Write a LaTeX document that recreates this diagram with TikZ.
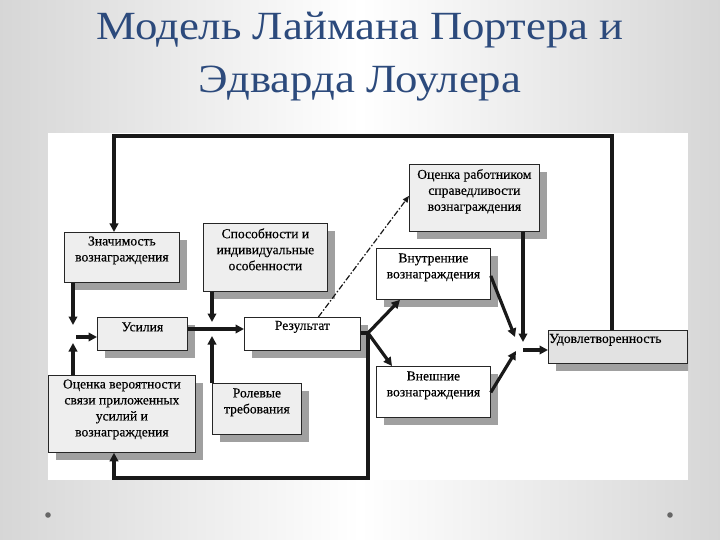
\documentclass[tikz,border=0pt]{standalone}
\usepackage{fontspec}
\setmainfont{Liberation Serif}
\newfontfamily\titlefont[FakeStretch=1.12]{Liberation Serif}
\newfontfamily\boxfont[FakeBold=0.3]{Liberation Serif}
\usetikzlibrary{arrows.meta,shadows}
\definecolor{titleblue}{RGB}{44,74,124}
\definecolor{boxgray}{RGB}{238,238,238}
\definecolor{udgray}{RGB}{226,226,226}
\definecolor{shadowc}{RGB}{160,160,160}
\begin{document}
\begin{tikzpicture}[x=1pt,y=-1pt,
  boxbase/.style={draw=black!85, line width=0.8pt, inner sep=0pt, anchor=north west,
    general shadow={fill=shadowc, shadow xshift=8pt, shadow yshift=-8pt}},
  graybox/.style={boxbase, fill=boxgray},
  whitebox/.style={boxbase, fill=white},
  txt/.style={font=\boxfont\fontsize{13.6}{16}\selectfont, align=center, inner sep=0pt},
  conn/.style={line width=3.2pt, black!90, -{Triangle[length=8.5pt,width=8.5pt]}},
  plainline/.style={line width=3.2pt, black!90},
  dashdotline/.style={line width=1.2pt, black!90, dash pattern=on 6pt off 2pt on 1.5pt off 2pt,
    -{Triangle[length=6.5pt,width=5.5pt]}},
  titletxt/.style={font=\titlefont\fontsize{40}{44}\selectfont, text=titleblue, inner sep=0pt, anchor=base}
]
\useasboundingbox (0,0) rectangle (720,540);
\shade[left color=black!16, right color=black!16, middle color=white] (0,0) rectangle (720,540);

\node[titletxt] (title1) at (360,40) {Модель Лаймана Портера и};
\node[titletxt] (title2) at (360,93) {Эдварда Лоулера};

\fill[black!60] (48,515) circle (2.8);
\fill[black!60] (670,515) circle (2.8);

\fill[white] (48,133) rectangle (688,480);

\begin{scope}
\clip (48,133) rectangle (688,480);
% boxes
\node[graybox, minimum width=115pt, minimum height=50pt] (zn) at (64,232) {};
\node[txt] (zn-t) at ([yshift=7pt]zn.center) {Значимость\\вознаграждения};

\node[graybox, minimum width=124pt, minimum height=68pt] (sp) at (203,223) {};
\node[txt] (sp-t) at ([yshift=8pt]sp.center) {Способности и\\индивидуальные\\особенности};

\node[graybox, minimum width=130pt, minimum height=67pt] (ocr) at (409,164) {};
\node[txt] (ocr-t) at ([yshift=6.5pt]ocr.center) {Оценка работником\\справедливости\\вознаграждения};

\node[whitebox, minimum width=114pt, minimum height=51pt] (vn) at (376,248) {};
\node[txt] (vn-t) at ([yshift=6.5pt]vn.center) {Внутренние\\вознаграждения};

\node[graybox, minimum width=90pt, minimum height=33pt] (us) at (97,317) {};
\node[txt] (us-t) at ([yshift=7pt]us.center) {Усилия};

\node[whitebox, minimum width=116pt, minimum height=33pt] (rez) at (244,317) {};
\node[txt] (rez-t) at ([yshift=7pt]rez.center) {Результат};

\node[whitebox, minimum width=114pt, minimum height=51pt] (ve) at (376,366) {};
\node[txt] (ve-t) at ([yshift=6.5pt]ve.center) {Внешние\\вознаграждения};

\node[boxbase, fill=udgray, minimum width=139pt, minimum height=33pt] (ud) at (548,330) {};
\node[txt, anchor=west] (ud-t) at ([xshift=1pt,yshift=7pt]ud.west) {Удовлетворенность};

\node[graybox, minimum width=147pt, minimum height=77pt] (ov) at (48,375) {};
\node[txt] (ov-t) at ([yshift=4.5pt]ov.center) {Оценка вероятности\\связи приложенных\\усилий и\\вознаграждения};

\node[graybox, minimum width=89pt, minimum height=51pt] (rol) at (212,383) {};
\node[txt] (rol-t) at ([yshift=6.5pt]rol.center) {Ролевые\\требования};

% connectors
\coordinate (t1) at (612,136);
\coordinate (t2) at (114,136);
\draw[conn, line width=3.6pt] (ud.north -| t1) -- (t1) -- (t2) -- (t2 |- zn.north);

\coordinate (j1) at (73,334);
\draw[conn] (zn.south -| j1) -- ([yshift=9pt]j1);
\draw[conn] (ov.north -| j1) -- ([yshift=-9pt]j1);
\coordinate (u1) at (76,337);
\draw[conn] (u1) -- (u1 -| us.west);

\coordinate (j2) at (212,329);
\draw[conn] (j2 -| us.east) -- (j2 -| rez.west);
\draw[conn] (sp.south -| j2) -- ([yshift=7pt]j2);
\draw[conn] (rol.north -| j2) -- ([yshift=-7pt]j2);

\coordinate (f) at (368,333);
\draw[plainline] (rez.east |- f) -- (f);
\draw[conn] (f) -- ([xshift=24pt]vn.south west);
\draw[conn] (f) -- ([xshift=16pt]ve.north west);
\coordinate (b1) at (114,478);
\draw[conn] (f) -- (f |- b1) -- (b1) -- (b1 |- ov.south);

\draw[dashdotline] ([xshift=16pt]rez.north) -- ([yshift=2pt]ocr.west);

\coordinate (o1) at (523,342);
\draw[conn] (o1 |- ocr.south) -- (o1);
\coordinate (v1) at (515,337);
\draw[conn] ([yshift=-2pt]vn.east) -- (v1);
\coordinate (v2) at (516,351);
\draw[conn] ([yshift=-0.5pt]ve.east) -- (v2);
\coordinate (o2) at (523,350);
\draw[conn] (o2) -- (o2 -| ud.west);
\end{scope}
\end{tikzpicture}
\end{document}
